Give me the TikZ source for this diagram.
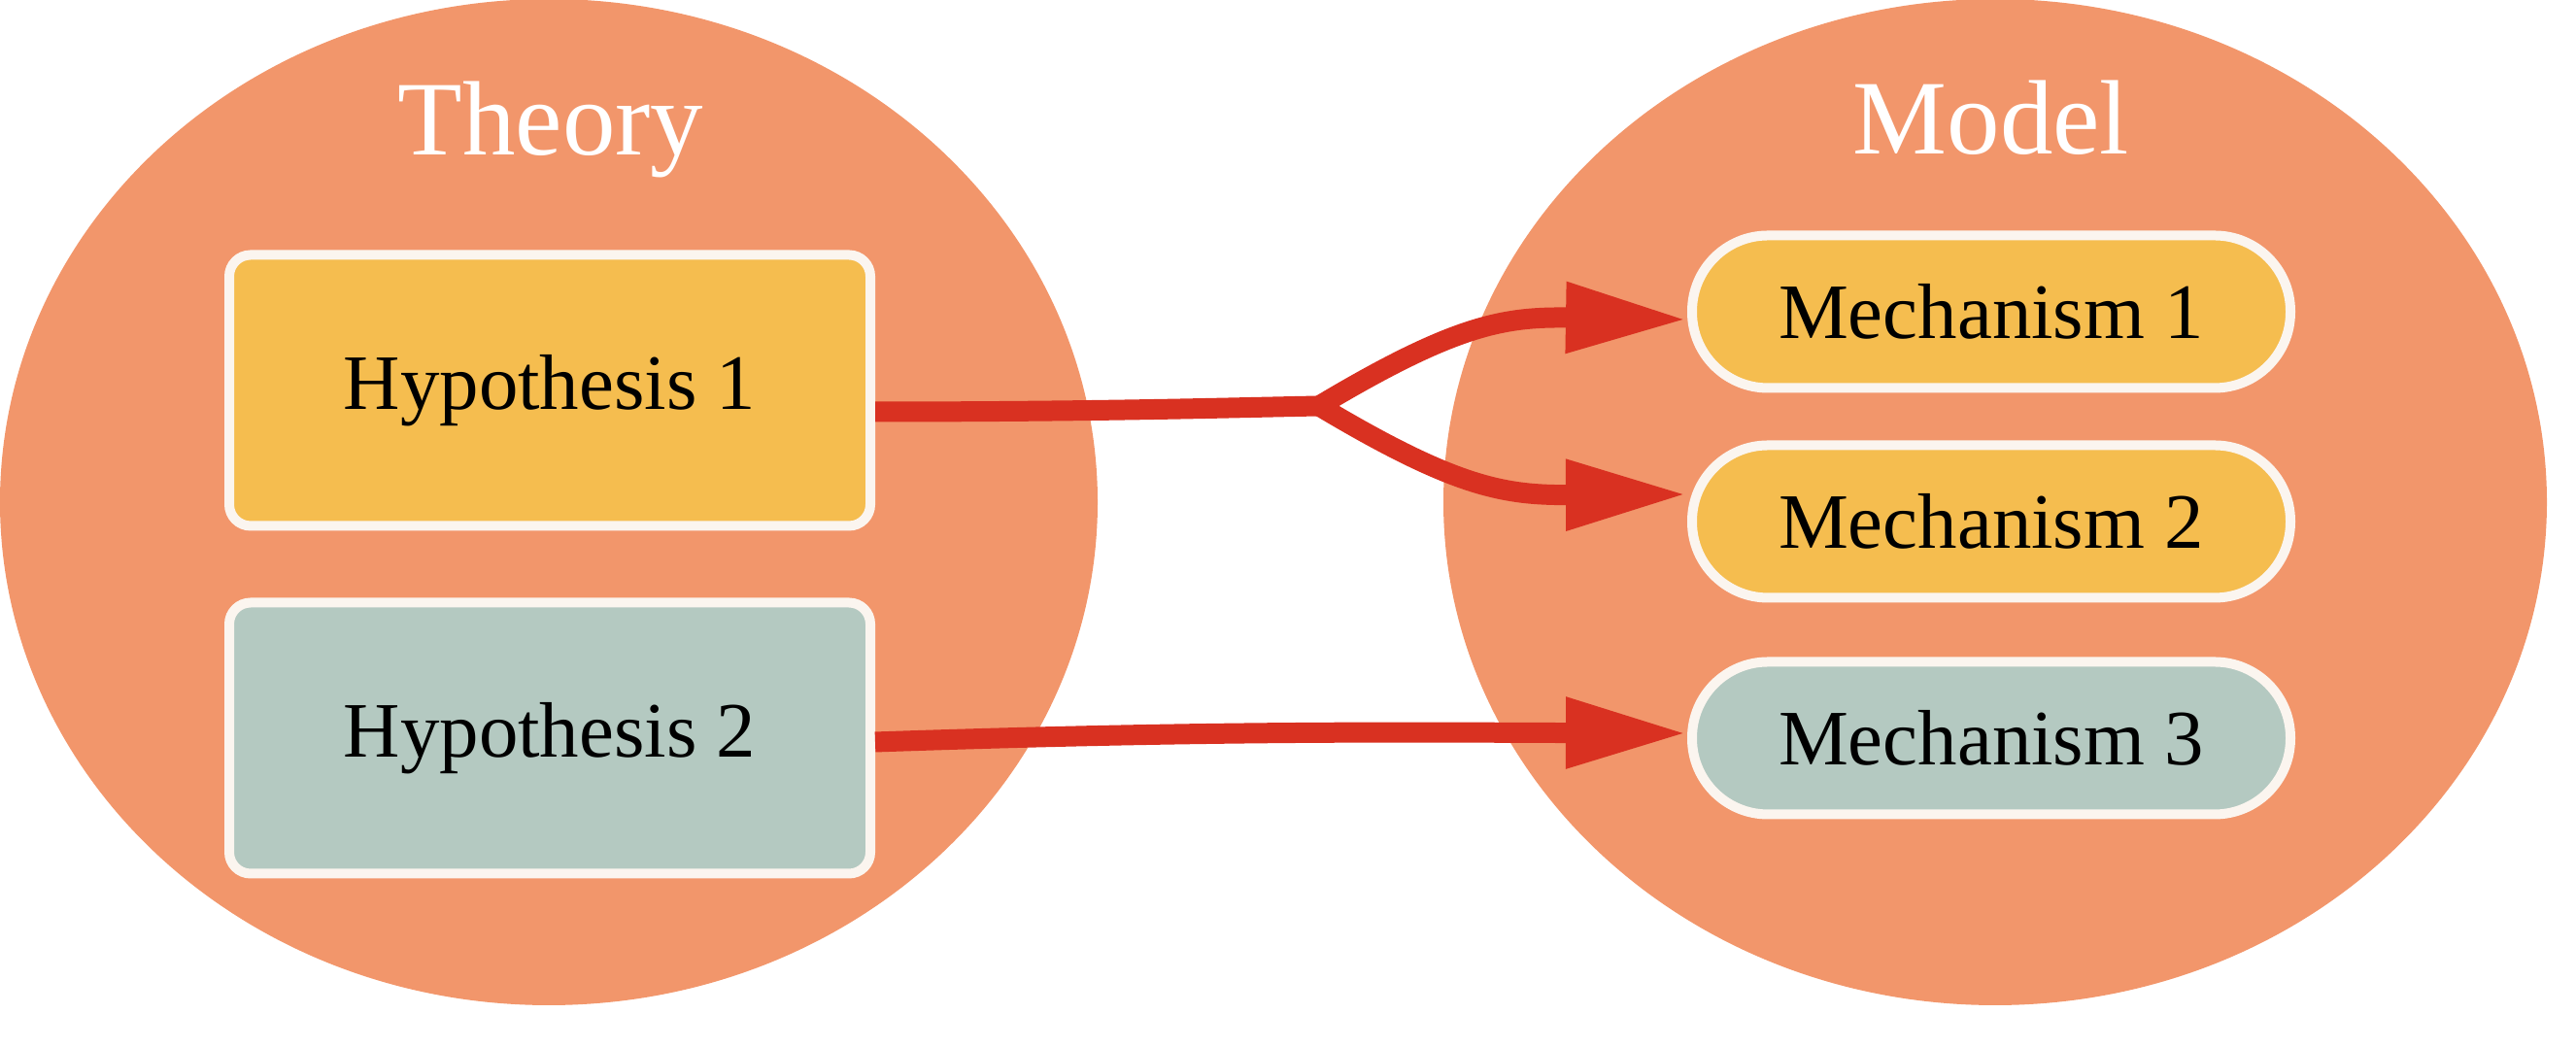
\documentclass[tikz,border=0pt]{standalone}
\usepackage{fontspec}
\setmainfont{Liberation Serif}
\usetikzlibrary{arrows.meta}

\definecolor{salmon}{HTML}{F2966B}
\definecolor{sunny}{HTML}{F5BD4F}
\definecolor{sage}{HTML}{B4C9C1}
\definecolor{cream}{HTML}{FBF5EF}
\definecolor{edgered}{HTML}{D93121}

\begin{document}
\begin{tikzpicture}[
    title/.style={text=white, font=\fontsize{31}{36}\selectfont, anchor=base},
    hyp/.style={rectangle, rounded corners=0.22cm, draw=cream, line width=0.1cm, minimum width=6.6cm, minimum height=2.79cm, font=\fontsize{23}{27}\selectfont},
    mech/.style={rectangle, rounded corners=0.78cm, draw=cream, line width=0.1cm, minimum width=6.16cm, minimum height=1.57cm, font=\fontsize{23}{27}\selectfont},
    edge/.style={draw=edgered, line width=0.21cm},
    tip/.style={-{Triangle[length=1.25cm, width=0.68cm]}}
]
    \useasboundingbox (0,0) rectangle (26.52,10.78);

    % Two clusters
    \fill[salmon] (5.65,5.61) ellipse [x radius=5.65, y radius=5.18];
    \fill[salmon] (20.54,5.61) ellipse [x radius=5.68, y radius=5.18];

    \node[title] (theoryTitle) at (5.67,9.18) {Theory};
    \node[title] (modelTitle) at (20.50,9.19) {Model};

    % Hypotheses and mechanisms
    \node[hyp, fill=sunny] (hyp1) at (5.66,6.76) {Hypothesis 1};
    \node[hyp, fill=sage] (hyp2) at (5.66,3.18) {Hypothesis 2};

    \node[mech, fill=sunny] (mech1) at (20.50,7.57) {Mechanism 1};
    \node[mech, fill=sunny] (mech2) at (20.50,5.41) {Mechanism 2};
    \node[mech, fill=sage] (mech3) at (20.50,3.18) {Mechanism 3};

    % Edges
    \coordinate (fork) at (13.58,6.60);
    \draw[edge] ([yshift=-0.22cm]hyp1.east) .. controls (11.2,6.54) and (12.6,6.58) .. (fork);
    \draw[edge, tip] (fork) .. controls (15.0,7.45) and (15.5,7.52) .. ([yshift=-0.08cm]mech1.west);
    \draw[edge, tip] (fork) .. controls (15.0,5.75) and (15.5,5.68) .. ([yshift=0.28cm]mech2.west);
    \draw[edge, tip] ([yshift=-0.04cm]hyp2.east) .. controls (12.5,3.26) and (14.5,3.24) .. ([yshift=0.05cm]mech3.west);
\end{tikzpicture}
\end{document}
